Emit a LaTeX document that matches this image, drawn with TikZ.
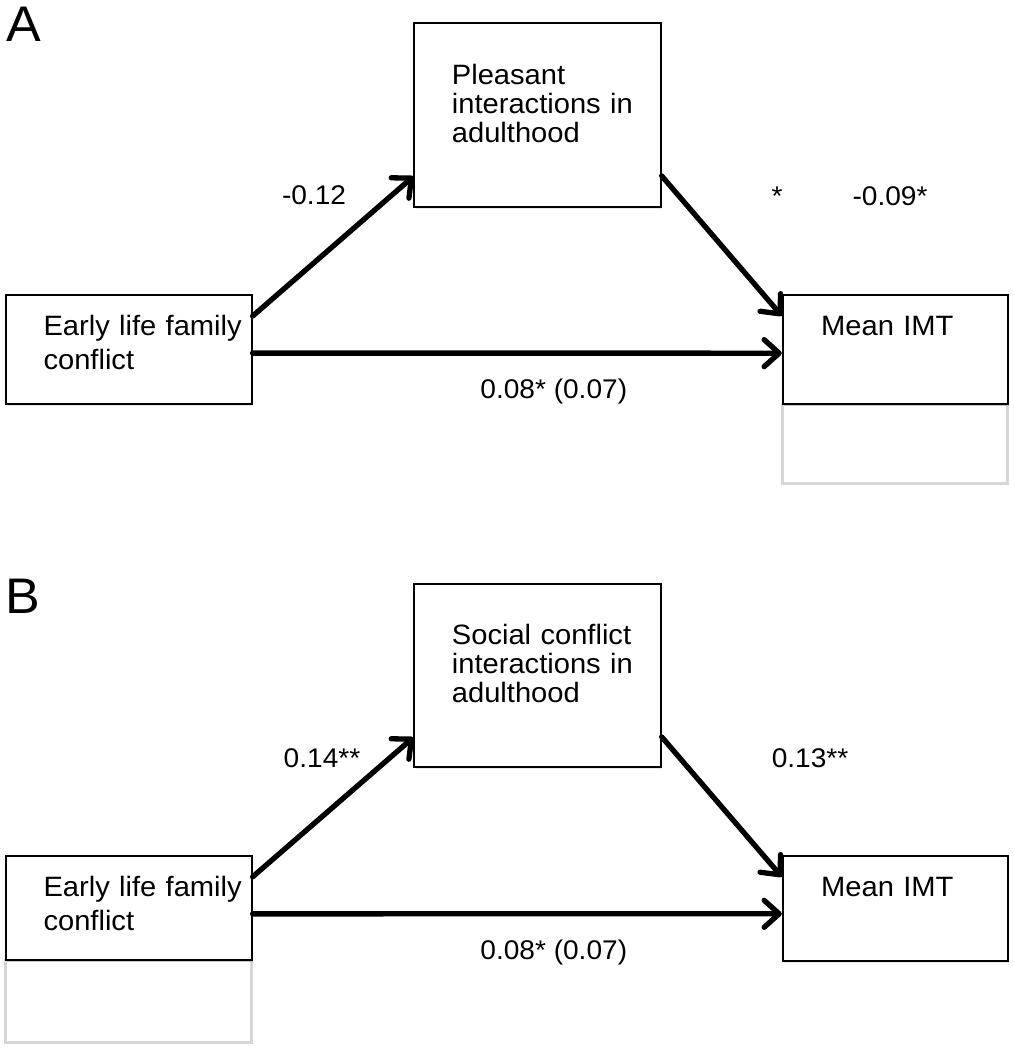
\documentclass[tikz,border=0pt]{standalone}
\usepackage{fontspec}
\setmainfont{Liberation Sans}[FakeStretch=1.04]
\usetikzlibrary{arrows.meta,calc,shadows}
\begin{document}
\begin{tikzpicture}[x=1pt,y=-1pt,
  box/.style={draw=black,line width=1.8pt,fill=white,inner sep=0pt,
    drop shadow={shadow xshift=1.5pt,shadow yshift=-2pt,opacity=0.25,fill=black!40}},
  ghost/.style={draw=black!16,line width=3pt,inner sep=0pt},
  conn/.style={line width=5.3pt,line cap=round,line join=round,
    -{Straight Barb[length=15pt,width=27pt,round]}},
  boxtext/.style={anchor=base west,inner sep=0pt,align=left,text width=250pt},
  eltext/.style={boxtext,font=\fontsize{28}{34}\selectfont},
  medtext/.style={boxtext,font=\fontsize{28}{29.3}\selectfont},
  lab/.style={anchor=base,inner sep=0pt,font=\fontsize{27}{31}\selectfont},
  panel/.style={anchor=base west,inner sep=0pt,font=\fontsize{50}{58}\selectfont}
]
\fill[white] (0,0) rectangle (1013,1050);
\useasboundingbox (0,0) rectangle (1013,1050);

% ---------- Panel A ----------
\node[panel] (labA) at (6,41) {A};

\node[ghost,minimum width=225pt,minimum height=79pt] (gA) at (895.2,443.5) {};

\node[box,minimum width=246pt,minimum height=109pt] (eA) at (128.7,349.5) {};
\node[box,minimum width=246.4pt,minimum height=183.4pt] (pA) at (537.5,115) {};
\node[box,minimum width=225pt,minimum height=109.3pt] (mA) at (895.2,349.7) {};

\node[eltext] (teA) at (43.3,335) {Early life family\\conflict};
\node[medtext] (tpA) at (451.7,84) {Pleasant\\interactions in\\adulthood};
\node[eltext] (tmA) at (821,335) {Mean IMT};

\draw[conn] ($(eA.north east)+(0,22)$) -- ($(pA.north west)+(0,154)$);
\draw[conn] ($(pA.north east)+(0,153.4)$) -- ($(mA.north west)+(0,21.7)$);
\draw[conn] ($(eA.north east)+(0,59)$) -- ($(mA.north west)+(0,59)$);

\node[lab] (lA1) at (314,204.3) {-0.12};
\node[lab] (lA2) at (777,205) {*};
\node[lab] (lA3) at (890,205) {-0.09*};
\node[lab] (lA4) at (553.8,398.3) {0.08* (0.07)};

% ---------- Panel B ----------
\node[panel] (labB) at (5,613.3) {B};

\node[ghost,minimum width=246pt,minimum height=82pt] (gB) at (128.7,1001) {};

\node[box,minimum width=246pt,minimum height=104.3pt] (eB) at (128.7,907.9) {};
\node[box,minimum width=246.4pt,minimum height=183pt] (sB) at (537.5,675.8) {};
\node[box,minimum width=225pt,minimum height=105pt] (mB) at (895.2,908.2) {};

\node[eltext] (teB) at (43.3,896) {Early life family\\conflict};
\node[medtext] (tsB) at (451.7,644.3) {Social conflict\\interactions in\\adulthood};
\node[eltext] (tmB) at (821,896) {Mean IMT};

\draw[conn] ($(eB.north east)+(0,22)$) -- ($(sB.north west)+(0,154)$);
\draw[conn] ($(sB.north east)+(0,153.4)$) -- ($(mB.north west)+(0,22)$);
\draw[conn] ($(eB.north east)+(0,59)$) -- ($(mB.north west)+(0,59)$);

\node[lab] (lB1) at (322,767) {0.14**};
\node[lab] (lB2) at (810,767) {0.13**};
\node[lab] (lB3) at (553.8,959) {0.08* (0.07)};
\end{tikzpicture}
\end{document}
